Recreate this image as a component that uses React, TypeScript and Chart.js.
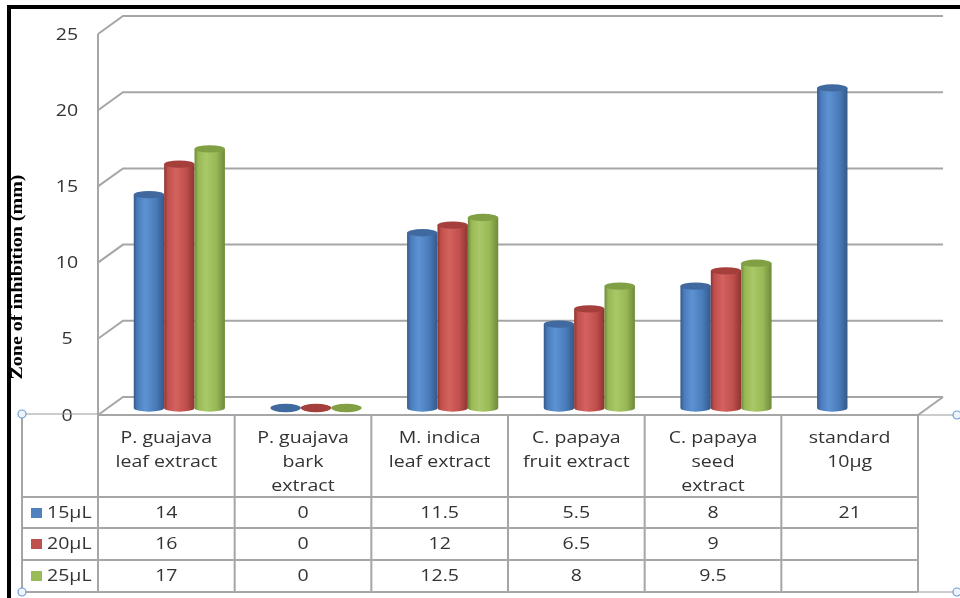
import React, { useEffect, useRef } from "react";
import { Chart, registerables } from "chart.js";
Chart.register(...registerables);

const categories: string[][] = [
  ["P. guajava", "leaf extract"],
  ["P. guajava", "bark", "extract"],
  ["M. indica", "leaf extract"],
  ["C. papaya", "fruit extract"],
  ["C. papaya", "seed", "extract"],
  ["standard", "10µg"],
];
const seriesNames = ["15µL", "20µL", "25µL"];
const s15: (number | null)[] = [14, 0, 11.5, 5.5, 8, 21];
const s20: (number | null)[] = [16, 0, 12, 6.5, 9, null];
const s25: (number | null)[] = [17, 0, 12.5, 8, 9.5, null];
const yTicks = [0, 5, 10, 15, 20, 25];
const yTitle = "Zone of inhibition (mm)";

const baseColors = ["#4F81BD", "#C0504D", "#9BBB59"];
const shades = [
  { dark: "#34598a", light: "#5d92d3", mid: "#4a7cba", top: "#40699f" },
  { dark: "#8e3431", light: "#d4625e", mid: "#c0504d", top: "#a43f3c" },
  { dark: "#6f8a3a", light: "#a9c968", mid: "#98b856", top: "#819f43" },
];

const W = 960, H = 598;
const DX = 13, DY = -7; // bar depth shift
const BX = 25, BY = -18; // back wall shift
const FONT = '"Open Sans", sans-serif';
const SX = 1.22; // horizontal text stretch
const GRID = "#A6A6A6";
const TEXT = "#333333";

function stretchText(ctx: CanvasRenderingContext2D, s: string, x: number, y: number, align: CanvasTextAlign = "center") {
  ctx.save();
  ctx.translate(x, y);
  ctx.scale(SX, 1);
  ctx.textAlign = align;
  ctx.textBaseline = "middle";
  ctx.fillText(s, 0, 0);
  ctx.restore();
}

function drawCylinder(ctx: CanvasRenderingContext2D, cx: number, topY: number, botY: number, w: number, sh: any) {
  const rx = w / 2;
  const ry = Math.max(3, w * 0.12);
  if (botY - topY > 0.5) {
    const g = ctx.createLinearGradient(cx - rx, 0, cx + rx, 0);
    g.addColorStop(0, sh.dark);
    g.addColorStop(0.12, sh.mid);
    g.addColorStop(0.38, sh.light);
    g.addColorStop(0.72, sh.mid);
    g.addColorStop(1, sh.dark);
    ctx.beginPath();
    ctx.moveTo(cx - rx, topY);
    ctx.lineTo(cx - rx, botY);
    ctx.ellipse(cx, botY, rx, ry, 0, Math.PI, 0, true);
    ctx.lineTo(cx + rx, topY);
    ctx.closePath();
    ctx.fillStyle = g;
    ctx.fill();
    ctx.beginPath();
    ctx.ellipse(cx, topY, rx, ry, 0, 0, Math.PI * 2);
    ctx.fillStyle = sh.top;
    ctx.fill();
  } else {
    ctx.beginPath();
    ctx.ellipse(cx, botY, rx, ry + 0.5, 0, 0, Math.PI * 2);
    ctx.fillStyle = sh.top;
    ctx.fill();
  }
}

const scenePlugin = {
  id: "scene",
  beforeDraw(chart: any) {
    const ctx = chart.ctx as CanvasRenderingContext2D;
    ctx.save();
    ctx.fillStyle = "#ffffff";
    ctx.fillRect(0, 0, W, H);
    ctx.restore();
  },
  beforeDatasetsDraw(chart: any) {
    const ctx = chart.ctx as CanvasRenderingContext2D;
    const { left, right } = chart.chartArea;
    const y = chart.scales.y;
    ctx.save();
    ctx.strokeStyle = GRID;
    ctx.lineWidth = 2;
    for (const v of yTicks) {
      const py = y.getPixelForValue(v);
      ctx.beginPath();
      ctx.moveTo(left, py);
      ctx.lineTo(left + BX, py + BY);
      ctx.lineTo(right + BX, py + BY);
      ctx.stroke();
    }
    const p0 = y.getPixelForValue(0);
    const pMax = y.getPixelForValue(yTicks[yTicks.length - 1]);
    ctx.beginPath();
    ctx.moveTo(left, pMax);
    ctx.lineTo(left, p0);
    ctx.stroke();
    ctx.beginPath();
    ctx.moveTo(left, p0);
    ctx.lineTo(right, p0);
    ctx.lineTo(right + BX, p0 + BY);
    ctx.stroke();

    const n = chart.data.labels.length;
    for (let j = 0; j < n; j++) {
      chart.data.datasets.forEach((ds: any, i: number) => {
        const v = ds.data[j];
        if (v == null) return;
        const el = chart.getDatasetMeta(i).data[j];
        const { x, y: ty, base, width } = el.getProps(["x", "y", "base", "width"], true);
        drawCylinder(ctx, x + DX, ty + DY, base + DY, width, shades[i]);
      });
    }

    ctx.fillStyle = TEXT;
    ctx.font = `16px ${FONT}`;
    for (const v of yTicks) {
      stretchText(ctx, String(v), 67, y.getPixelForValue(v) + 1);
    }
    ctx.restore();
    return false;
  },
  afterDraw(chart: any) {
    const ctx = chart.ctx as CanvasRenderingContext2D;
    const { left, right, bottom } = chart.chartArea;
    const xs = chart.scales.x;
    const n = chart.data.labels.length;
    const colW = (right - left) / n;
    const tableLeft = 22;
    const headTop = bottom;
    const headBot = 497;
    const rowBots = [528, 560, 592];
    ctx.save();
    ctx.strokeStyle = GRID;
    ctx.lineWidth = 2;
    ctx.beginPath();
    for (let k = 0; k <= n; k++) {
      const bx = left + k * colW;
      ctx.moveTo(bx, headTop);
      ctx.lineTo(bx, rowBots[2]);
    }
    ctx.moveTo(tableLeft, headTop);
    ctx.lineTo(tableLeft, rowBots[2]);
    ctx.moveTo(tableLeft, headBot);
    ctx.lineTo(right, headBot);
    for (const rb of rowBots) {
      ctx.moveTo(tableLeft, rb);
      ctx.lineTo(right, rb);
    }
    ctx.stroke();
    ctx.lineWidth = 1;
    ctx.strokeStyle = "#9a9a9a";
    ctx.beginPath();
    ctx.moveTo(tableLeft, headTop - 1);
    ctx.lineTo(left, headTop - 1);
    ctx.moveTo(right, headTop);
    ctx.lineTo(957, headTop);
    ctx.moveTo(right, rowBots[2]);
    ctx.lineTo(957, rowBots[2]);
    ctx.stroke();

    ctx.fillStyle = TEXT;
    ctx.font = `16px ${FONT}`;
    categories.forEach((lines, i) => {
      const cx = xs.getPixelForValue(i);
      lines.forEach((ln, k) => {
        stretchText(ctx, ln, cx, 438 + k * 24);
      });
    });
    const series = [s15, s20, s25];
    const rowCenters = [513, 544, 576];
    series.forEach((arr, r) => {
      arr.forEach((v, i) => {
        if (v == null) return;
        stretchText(ctx, String(v), xs.getPixelForValue(i), rowCenters[r]);
      });
      ctx.fillStyle = baseColors[r];
      ctx.fillRect(31, rowCenters[r] - 5, 11, 10);
      ctx.fillStyle = TEXT;
      stretchText(ctx, seriesNames[r], 47, rowCenters[r], "left");
    });

    ctx.save();
    ctx.translate(18, 277);
    ctx.rotate(-Math.PI / 2);
    ctx.scale(1, 0.85);
    ctx.font = `bold 20px "Liberation Serif", serif`;
    ctx.fillStyle = "#000";
    ctx.textAlign = "center";
    ctx.textBaseline = "middle";
    ctx.fillText(yTitle, 0, 0);
    ctx.restore();

    const handles = [
      [tableLeft, headTop - 1],
      [tableLeft, rowBots[2]],
      [957, headTop],
      [957, rowBots[2]],
    ];
    for (const [hx, hy] of handles) {
      ctx.beginPath();
      ctx.arc(hx, hy, 4, 0, Math.PI * 2);
      ctx.fillStyle = "#eef4fb";
      ctx.fill();
      ctx.strokeStyle = "#6c9fd3";
      ctx.lineWidth = 1.2;
      ctx.stroke();
    }

    // outer black frame (top and left edges)
    ctx.fillStyle = "#000000";
    ctx.fillRect(7, 5, W - 7, 4);
    ctx.fillRect(7, 5, 4, H - 5);
    ctx.restore();
  },
};

export default function App() {
  const ref = useRef<HTMLCanvasElement>(null);
  useEffect(() => {
    if (!ref.current) return;
    const chart = new Chart(ref.current, {
      type: "bar",
      data: {
        labels: categories.map((c) => c.join(" ")),
        datasets: [
          { label: seriesNames[0], data: s15, backgroundColor: baseColors[0] },
          { label: seriesNames[1], data: s20, backgroundColor: baseColors[1] },
          { label: seriesNames[2], data: s25, backgroundColor: baseColors[2] },
        ],
      },
      options: {
        responsive: false,
        animation: false,
        devicePixelRatio: 1,
        layout: { padding: { left: 98, right: 42, top: 34, bottom: 183 } },
        datasets: { bar: { categoryPercentage: 0.667, barPercentage: 1 } },
        scales: {
          x: { display: false },
          y: { display: false, min: 0, max: 25, ticks: { stepSize: 5 } },
        },
        plugins: { legend: { display: false }, tooltip: { enabled: false } },
      },
      plugins: [scenePlugin],
    } as any);
    return () => chart.destroy();
  }, []);
  return (
    <div style={{ position: "absolute", left: 0, top: 0, width: W, height: H }}>
      <canvas ref={ref} width={W} height={H} style={{ display: "block" }} />
    </div>
  );
}
